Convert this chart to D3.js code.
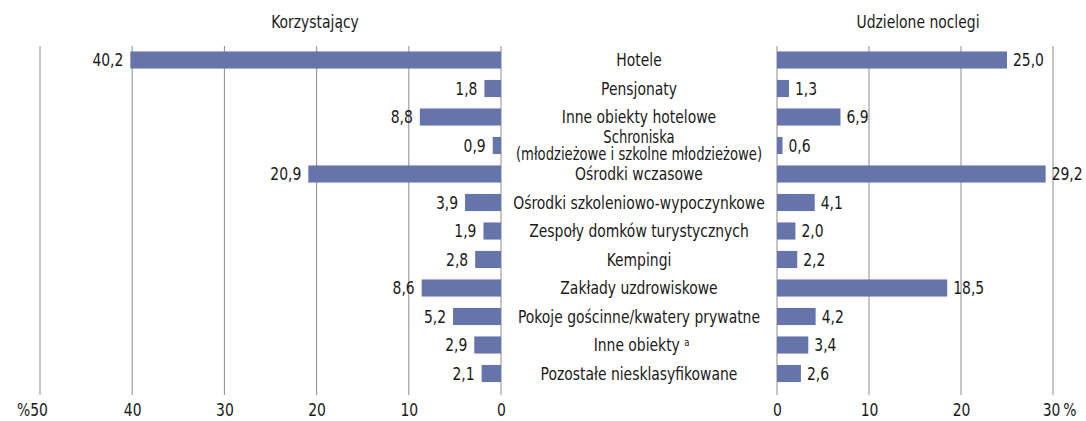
<!DOCTYPE html>
<html><head><meta charset="utf-8">
<script src="https://cdn.jsdelivr.net/npm/d3@7"></script>
<style>
body{margin:0;background:#fff;}
text{font-family:"DejaVu Sans Condensed","DejaVu Sans",sans-serif;font-stretch:condensed;fill:#1a1a1a;}
</style></head>
<body><svg id="c" width="1086" height="421"></svg>
<script>
const categories = [
  ["Hotele"],
  ["Pensjonaty"],
  ["Inne obiekty hotelowe"],
  ["Schroniska","(młodzieżowe i szkolne młodzieżowe)"],
  ["Ośrodki wczasowe"],
  ["Ośrodki szkoleniowo-wypoczynkowe"],
  ["Zespoły domków turystycznych"],
  ["Kempingi"],
  ["Zakłady uzdrowiskowe"],
  ["Pokoje gościnne/kwatery prywatne"],
  ["Inne obiekty", "a"],
  ["Pozostałe niesklasyfikowane"]
];
const korzystajacy = [40.2, 1.8, 8.8, 0.9, 20.9, 3.9, 1.9, 2.8, 8.6, 5.2, 2.9, 2.1];
const noclegi = [25.0, 1.3, 6.9, 0.6, 29.2, 4.1, 2.0, 2.2, 18.5, 4.2, 3.4, 2.6];
const leftTicks = [50, 40, 30, 20, 10, 0];
const rightTicks = [0, 10, 20, 30];
const titles = ["Korzystający", "Udzielone noclegi"];

const svg = d3.select("#c");
const fmt = d3.formatLocale({decimal:",", thousands:" ", grouping:[3], currency:["","%"]}).format(".1f");
const barColor = "#6575ab";
const gridColor = "#8c8c8c";
const FS = 18, SX = 0.86;

function squeeze(sel){
  sel.each(function(){
    const t = d3.select(this);
    const x = +t.attr("x") || 0;
    t.attr("transform", `translate(${x},0) scale(${SX},1) translate(${-x},0)`);
  });
}

const idx = categories.map((d,i)=>i);
const y = d3.scaleBand().domain(idx).range([45.75, 387.75]).paddingInner(0.4).paddingOuter(0.2);
const xL = d3.scaleLinear().domain([0, 50]).range([501, 40]);
const xR = d3.scaleLinear().domain([0, 30]).range([777, 1053]);
const gridTop = 46, gridBottom = 395;

// gridlines
svg.append("g").selectAll("line").data(leftTicks).join("line")
  .attr("x1", d=>xL(d)).attr("x2", d=>xL(d)).attr("y1", gridTop).attr("y2", gridBottom)
  .attr("stroke", gridColor).attr("stroke-width", 1);
svg.append("g").selectAll("line").data(rightTicks).join("line")
  .attr("x1", d=>xR(d)).attr("x2", d=>xR(d)).attr("y1", gridTop).attr("y2", gridBottom)
  .attr("stroke", gridColor).attr("stroke-width", 1);

// axes labels
const axL = svg.append("g").attr("transform", `translate(0,${gridBottom})`)
  .call(d3.axisBottom(xL).tickValues(leftTicks).tickSize(0).tickPadding(8)
    .tickFormat(d => d === 50 ? "%50" : String(d)));
const axR = svg.append("g").attr("transform", `translate(0,${gridBottom})`)
  .call(d3.axisBottom(xR).tickValues(rightTicks).tickSize(0).tickPadding(8)
    .tickFormat(d => d === 30 ? "30\u2009%" : String(d)));
[axL, axR].forEach(a => {
  a.select(".domain").remove();
  a.selectAll("text").attr("font-size", FS).attr("font-family", null).style("fill", "#1a1a1a");
  squeeze(a.selectAll("text"));
});
axL.selectAll(".tick text").filter(d=>d===50).attr("transform", `translate(-8,0) scale(${SX},1)`);
axR.selectAll(".tick text").filter(d=>d===30).attr("transform", `translate(6,0) scale(${SX},1)`);

// bars left
svg.append("g").selectAll("rect").data(korzystajacy).join("rect")
  .attr("x", d=>xL(d)).attr("width", d=>xL(0)-xL(d))
  .attr("y", (d,i)=>y(i)).attr("height", y.bandwidth())
  .attr("fill", barColor);
svg.append("g").selectAll("text").data(korzystajacy).join("text")
  .attr("x", d=>xL(d)-7).attr("y", (d,i)=>y(i)+y.bandwidth()/2)
  .attr("dy", "0.36em").attr("text-anchor", "end").attr("font-size", FS)
  .text(d=>fmt(d)).call(squeeze);

// bars right
svg.append("g").selectAll("rect").data(noclegi).join("rect")
  .attr("x", xR(0)).attr("width", d=>xR(d)-xR(0))
  .attr("y", (d,i)=>y(i)).attr("height", y.bandwidth())
  .attr("fill", barColor);
svg.append("g").selectAll("text").data(noclegi).join("text")
  .attr("x", d=>xR(d)+6).attr("y", (d,i)=>y(i)+y.bandwidth()/2)
  .attr("dy", "0.36em").attr("text-anchor", "start").attr("font-size", FS)
  .text(d=>fmt(d)).call(squeeze);

// category labels
const cx = (xL(0) + xR(0)) / 2;
const lab = svg.append("g").selectAll("text").data(categories).join("text")
  .attr("x", cx).attr("text-anchor", "middle").attr("font-size", FS);
lab.each(function(d, i){
  const t = d3.select(this);
  const c = y(i) + y.bandwidth()/2;
  if (d.length === 2 && d[1] === "a") {
    t.attr("y", c).attr("dy", "0.36em");
    t.append("tspan").text(d[0] + " ");
    t.append("tspan").attr("font-size", 11).attr("dy", "-0.5em").text(d[1]);
    t.attr("dx", 3);
  } else if (d.length === 2) {
    t.attr("y", c - 8.5).attr("dy", "0.34em").attr("font-size", 17);
    t.append("tspan").attr("x", cx).text(d[0]);
    t.append("tspan").attr("x", cx).attr("dy", 17).text(d[1]);
  } else {
    t.attr("y", c).attr("dy", "0.36em").text(d[0]);
  }
});
lab.call(squeeze);

// titles
svg.append("g").selectAll("text").data(titles).join("text")
  .attr("x", (d,i)=> i===0 ? 315 : 918).attr("y", 28)
  .attr("text-anchor", "middle").attr("font-size", FS).text(d=>d).call(squeeze);
</script>
</body></html>
